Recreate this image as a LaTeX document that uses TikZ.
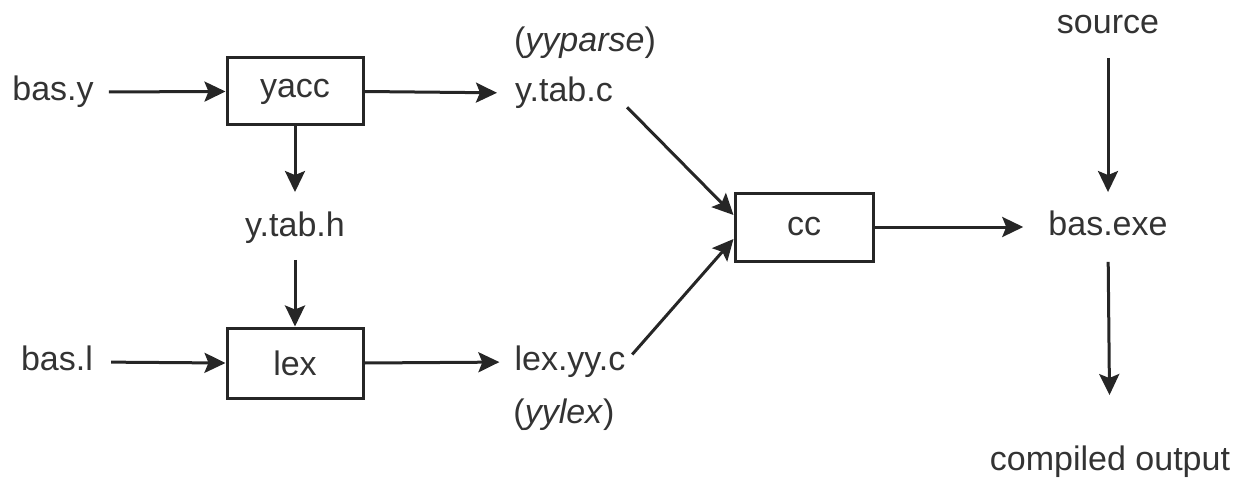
\documentclass[tikz,border=0pt]{standalone}
\usepackage{fontspec}
\setmainfont{Liberation Sans}
\usetikzlibrary{arrows.meta}
\definecolor{ink}{HTML}{262626}
\definecolor{txt}{HTML}{333333}
\begin{document}
\begin{tikzpicture}[x=1pt,y=-1pt,
  every node/.style={font=\fontsize{34}{40}\selectfont, text=txt},
  lbl/.style={inner sep=0pt, text height=24.5pt, text depth=7pt},
  procbox/.style={draw=ink, line width=3pt, fill=white, inner sep=0pt, minimum width=136pt},
  conn/.style={draw=ink, line width=3pt, -{Stealth[length=21pt,width=20pt,inset=4pt]}}]
\useasboundingbox (0,0) rectangle (1236,484);
\node[procbox, minimum height=67pt] (yacc) at (295,91.5) {yacc};
\node[procbox, minimum height=70pt] (lex) at (295,363) {lex};
\node[procbox, minimum height=68pt, minimum width=138pt] (cc) at (804,227) {cc};
\node[lbl] (basy) at (53,92) {bas.y};
\node[lbl] (basl) at (57,362) {bas.l};
\node[lbl] (ytabc) at (564,93) {y.tab.c};
\node[lbl] (yyparse) at (585,43) {(\textit{yyparse})};
\node[lbl] (ytabh) at (295,228) {y.tab.h};
\node[lbl] (lexyyc) at (570,362) {lex.yy.c};
\node[lbl] (yylex) at (564,415) {(\textit{yylex})};
\node[lbl] (basexe) at (1108,227) {bas.exe};
\node[lbl] (source) at (1108,25) {source};
\node[lbl] (compiled) at (1110,462) {compiled output};
\draw[conn, shorten <=15pt] (basy.east) -- (yacc.west);
\draw[conn, shorten >=18pt] (yacc.east) -- (ytabc.west);
\draw[conn, shorten >=20pt] (yacc.south) -- (ytabh.north);
\draw[conn, shorten <=16pt] (ytabh.south) -- (lex.north);
\draw[conn, shorten <=18pt] (basl.east) -- (lex.west);
\draw[conn, shorten >=15pt] (lex.east) -- (lexyyc.west);
\draw[conn, shorten <=20pt] (ytabc.east) -- ([yshift=12pt]cc.west);
\draw[conn, shorten <=10pt] (lexyyc.east) -- ([yshift=-12pt]cc.west);
\draw[conn, shorten >=25pt] (cc.east) -- (basexe.west);
\draw[conn, shorten <=17pt, shorten >=19pt] (source.south) -- (basexe.north);
\draw[conn, shorten <=19pt, shorten >=51pt] (basexe.south) -- (compiled.north);
\end{tikzpicture}
\end{document}
